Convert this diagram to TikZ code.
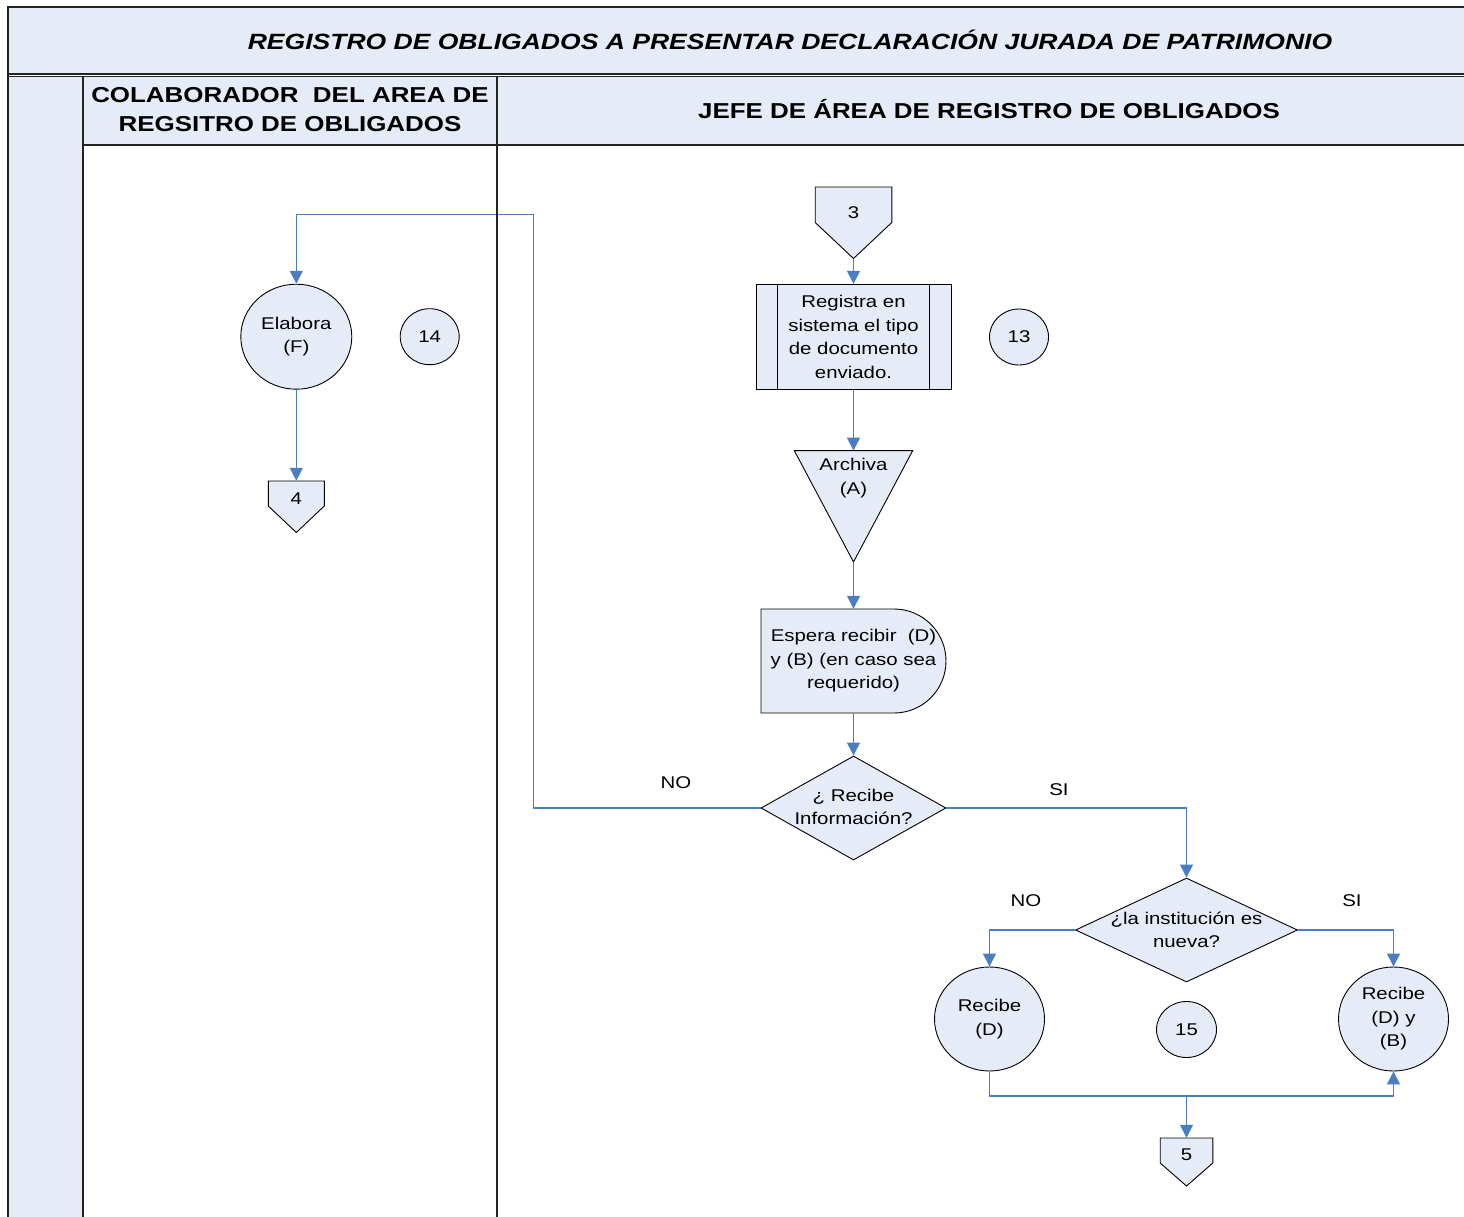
\documentclass[tikz,border=0pt]{standalone}
\usepackage{fontspec}
\setmainfont{Liberation Sans}[FakeStretch=1.2]
\usetikzlibrary{arrows.meta,shapes.geometric}
\definecolor{lanefill}{RGB}{230,236,247}
\definecolor{flowblue}{RGB}{74,126,193}
\definecolor{frameline}{RGB}{35,35,35}

% off-page connector: #1 name, #2 centre x, #3 top y, #4 half width, #5 box height, #6 point depth
\newcommand\offpage[6]{%
  \filldraw[shapeline] (#2-#4,#3) -- (#2+#4,#3) -- (#2+#4,#3+#5) -- (#2,#3+#5+#6) -- (#2-#4,#3+#5) -- cycle;
  \node[minimum width=2*#4, minimum height=#5+#6] (#1) at (#2,#3+#5/2+#6/2) {};}

\begin{document}
\begin{tikzpicture}[x=1pt,y=-1pt,
  every node/.style={font=\fontsize{17}{23.5}\selectfont, inner sep=0pt, align=center},
  shapeline/.style={draw=black, line width=0.9pt, fill=lanefill},
  conn/.style={draw=flowblue, line width=1.3pt, -{Triangle[length=13pt,width=13pt]}},
  wire/.style={draw=flowblue, line width=1.3pt},
  lane/.style={draw=frameline, line width=1.6pt},
  procbox/.style={shapeline, rectangle, minimum width=195pt, minimum height=105pt},
  oval/.style={shapeline, ellipse, minimum width=111pt, minimum height=105pt},
  stepno/.style={shapeline, ellipse, minimum width=59pt, minimum height=56pt},
  decision/.style={shapeline, diamond, minimum width=185pt, minimum height=104pt},
  headtext/.style={font=\fontsize{21.6}{29}\selectfont\bfseries}
]
\useasboundingbox (0,0) rectangle (1464,1217);

% swimlane backgrounds
\fill[lanefill] (8,7) rectangle (1464,74);
\fill[lanefill] (8,76) rectangle (83,1217);
\fill[lanefill] (83,76) rectangle (1464,145);

% titles
\node[font=\fontsize{22.1}{26}\selectfont\bfseries\itshape] (title) at (790,40)
  {REGISTRO DE OBLIGADOS A PRESENTAR DECLARACIÓN JURADA DE PATRIMONIO};
\node[headtext] (hcol) at (290,110) {COLABORADOR\ \ DEL AREA DE\\REGSITRO DE OBLIGADOS};
\node[headtext] (hjef) at (989,109) {JEFE DE ÁREA DE REGISTRO DE OBLIGADOS};

% right-hand lane
\offpage{c3}{853.5}{187}{38.3}{35.5}{36}
\node (t3) at (853.5,213) {3};
\node[procbox] (reg) at (853.5,336.8) {Registra en\\sistema el tipo\\de documento\\enviado.};
\draw[black, line width=0.9pt] ([xshift=22pt]reg.north west) -- ([xshift=22pt]reg.south west);
\draw[black, line width=0.9pt] ([xshift=-22pt]reg.north east) -- ([xshift=-22pt]reg.south east);
\node[stepno] (n13) at (1019,337) {13};

\node[minimum width=118pt, minimum height=111pt] (arch) at (853.5,506.3) {};
\filldraw[shapeline] (arch.north west) -- (arch.north east) -- (arch.south) -- cycle;
\node (tarch) at (853.5,478) {Archiva\\(A)};

\filldraw[shapeline] (761,609) -- (894,609) arc[start angle=90, end angle=-90, radius=52pt] -- (761,713) -- cycle;
\node[minimum width=185pt, minimum height=104pt] (wait) at (853.5,661)
  {Espera recibir\ \ (D)\\y (B) (en caso sea\\requerido)};

\node[decision] (d1) at (853.5,808) {};
\node (td1) at (853.5,807) {¿ Recibe\\Información?};
\node[decision, minimum width=222pt] (d2) at (1186.5,930) {};
\node (td2) at (1186.5,930) {¿la institución es\\nueva?};

\node[oval, minimum width=110pt, minimum height=104pt] (rD) at (989.5,1019) {Recibe\\(D)};
\node[oval, minimum width=110pt, minimum height=104pt] (rDB) at (1393.5,1019) {Recibe\\(D) y\\(B)};
\node[stepno, minimum width=60pt] (n15) at (1186.5,1029.5) {15};
\offpage{c5}{1186.5}{1138}{26.3}{25}{23}
\node (t5) at (1186.5,1155) {5};

% left-hand lane
\node[oval] (elab) at (296.3,336.7) {Elabora\\(F)};
\node[stepno] (n14) at (429.7,336.7) {14};
\offpage{c4}{296.3}{481}{28}{25}{26.5}
\node (t4) at (296.3,499) {4};

% branch labels
\node (lno1) at (676,783) {NO};
\node (lsi1) at (1059,790) {SI};
\node (lno2) at (1026,901) {NO};
\node (lsi2) at (1352,901) {SI};

% flow lines
\draw[conn] (c3.south) -- (reg.north);
\draw[conn] (reg.south) -- (arch.north);
\draw[conn] (arch.south) -- (wait.north);
\draw[conn] (wait.south) -- (d1.north);
\coordinate (loop) at (533.5,214.5);
\draw[conn] (d1.west) -| (loop) -| (elab.north);
\draw[conn] (elab.south) -- (c4.north);
\draw[conn] (d1.east) -| (d2.north);
\draw[conn] (d2.west) -| (rD.north);
\draw[conn] (d2.east) -| (rDB.north);
\coordinate (join) at (1186.5,1096);
\draw[wire] (rD.south) |- (join);
\draw[conn] (join) -| (rDB.south);
\draw[conn] (join) -- (c5.north);

% swimlane rules
\draw[lane] (1464,7) -- (8,7) -- (8,1217);
\draw[lane] (8,74) -- (1464,74);
\draw[lane, line width=1pt] (8,77) -- (1464,77);
\draw[lane] (83,76) -- (83,1217);
\draw[lane] (497,76) -- (497,1217);
\draw[lane] (83,145) -- (1464,145);
\end{tikzpicture}
\end{document}
